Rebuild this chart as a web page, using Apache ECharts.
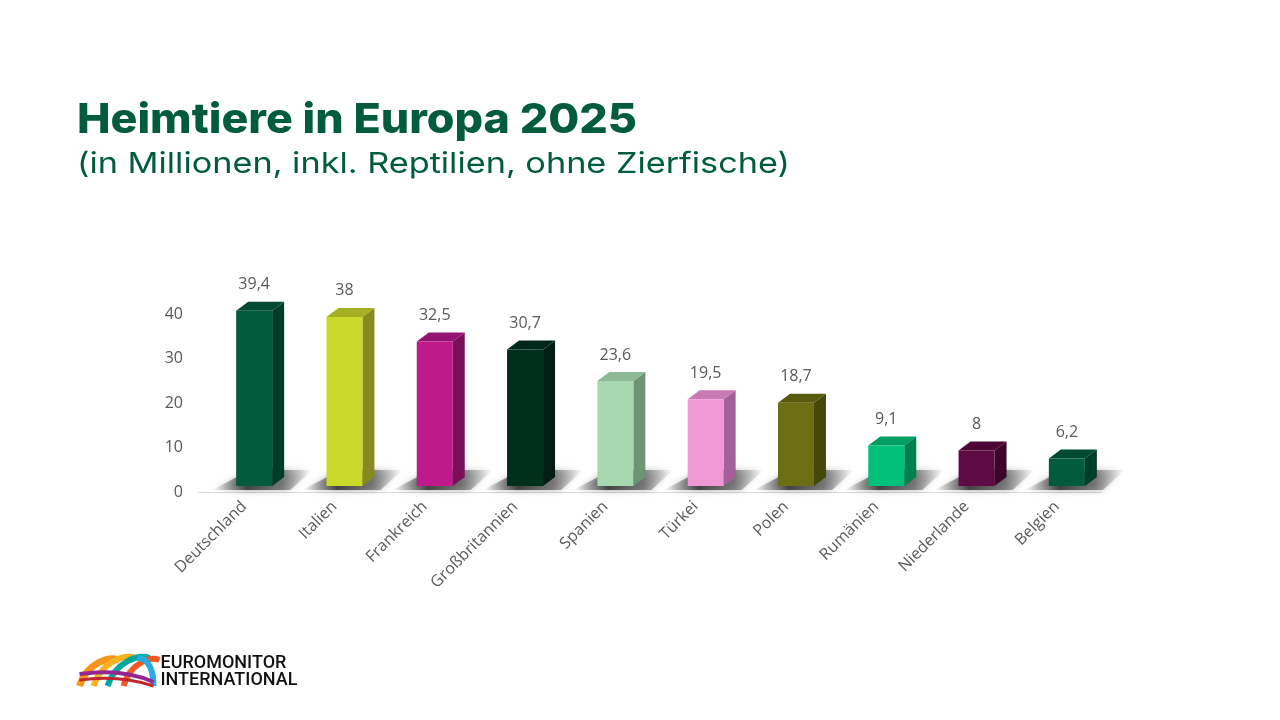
<!DOCTYPE html>
<html>
<head>
<meta charset="utf-8">
<script src="https://cdn.jsdelivr.net/npm/echarts@6/dist/echarts.min.js"></script>
<style>
  html, body { margin: 0; padding: 0; background: #fff; }
  #chart { width: 1280px; height: 720px; }
</style>
</head>
<body>
<div id="chart"></div>
<script>
var laender = ['Deutschland', 'Italien', 'Frankreich', 'Großbritannien', 'Spanien', 'Türkei', 'Polen', 'Rumänien', 'Niederlande', 'Belgien'];
var werte = [39.4, 38, 32.5, 30.7, 23.6, 19.5, 18.7, 9.1, 8, 6.2];
var frontFarben = ['#005c3c', '#c9da2a', '#be1a8a', '#00301c', '#a8d8b0', '#f098d6', '#6b6e12', '#00c07a', '#5e0b45', '#005c3c'];
var seitenFarben = ['#003d27', '#858c1d', '#7a0f58', '#001f12', '#6f9474', '#a4609a', '#45470b', '#00824f', '#3c062c', '#003d27'];
var deckelFarben = ['#004a30', '#a3b021', '#941270', '#00281a', '#8fb894', '#c87ab6', '#585a0e', '#009e63', '#4b0837', '#004a30'];
var yTicks = [0, 10, 20, 30, 40];

var titel = 'Heimtiere in Europa 2025';
var untertitel = '(in Millionen, inkl. Reptilien, ohne Zierfische)';

function fmt(v) {
  return String(v).replace('.', ',');
}

// width of a text in a given font, to stretch the titles like the wider original font
function textBreite(text, font) {
  var ctx = document.createElement('canvas').getContext('2d');
  ctx.font = font;
  return ctx.measureText(text).width;
}

function drawChart () {

  var chartDom = document.getElementById('chart');
  var myChart = echarts.init(chartDom);
  var option;

  var dx = 12, dy = 9, lift = 6;

  var titelFont = '800 41px Inter';
  var unterFont = '400 29px Inter';
  var sTitel = 560 / textBreite(titel, titelFont);
  var sUnter = 713 / textBreite(untertitel, unterFont);

  option = {
    animation: false,
    grid: { left: 199, right: 178, top: 314, bottom: 228 },
    graphic: [
      {
        type: 'text', x: 77, y: 100, scaleX: sTitel,
        style: { text: titel, font: titelFont, fill: '#005c3c', verticalAlign: 'top' }
      },
      {
        type: 'text', x: 77, y: 150, scaleX: sUnter,
        style: { text: untertitel, font: unterFont, fill: '#005c3c', verticalAlign: 'top' }
      },
      // logo
      {
        type: 'group', left: 76, top: 654,
        children: [
          { type: 'bezierCurve', shape: { x1: 0, y1: 32, x2: 40, y2: 6, cpx1: 8, cpy1: 8, cpx2: 30, cpy2: 2 }, style: { stroke: '#f7941d', lineWidth: 7, fill: null } },
          { type: 'bezierCurve', shape: { x1: 14, y1: 32, x2: 56, y2: 4, cpx1: 22, cpy1: 8, cpx2: 44, cpy2: 0 }, style: { stroke: '#f7b21d', lineWidth: 6, fill: null } },
          { type: 'bezierCurve', shape: { x1: 28, y1: 32, x2: 70, y2: 4, cpx1: 36, cpy1: 8, cpx2: 58, cpy2: 0 }, style: { stroke: '#00a99d', lineWidth: 6, fill: null } },
          { type: 'bezierCurve', shape: { x1: 44, y1: 32, x2: 80, y2: 6, cpx1: 50, cpy1: 10, cpx2: 70, cpy2: 2 }, style: { stroke: '#f15a24', lineWidth: 6, fill: null } },
          { type: 'bezierCurve', shape: { x1: 58, y1: 4, x2: 74, y2: 32, cpx1: 70, cpy1: 4, cpx2: 74, cpy2: 18 }, style: { stroke: '#29abe2', lineWidth: 6, fill: null } },
          { type: 'bezierCurve', shape: { x1: 0, y1: 20, x2: 74, y2: 28, cpx1: 30, cpy1: 16, cpx2: 56, cpy2: 20 }, style: { stroke: '#93278f', lineWidth: 4, fill: null } },
          { type: 'bezierCurve', shape: { x1: 0, y1: 26, x2: 74, y2: 32, cpx1: 30, cpy1: 22, cpx2: 56, cpy2: 26 }, style: { stroke: '#c1272d', lineWidth: 3, fill: null } },
          { type: 'text', left: 81, top: 0, style: { text: 'EUROMONITOR', font: '500 18px Roboto', fill: '#111' } },
          { type: 'text', left: 81, top: 17, style: { text: 'INTERNATIONAL', font: '500 18px Roboto', fill: '#111' } }
        ]
      }
    ],
    xAxis: {
      type: 'category',
      data: laender,
      axisLine: { lineStyle: { color: '#d9d9d9', width: 1 } },
      axisTick: { show: false },
      axisLabel: { rotate: 45, color: '#595959', fontSize: 16, fontFamily: 'Open Sans', margin: 12, interval: 0 }
    },
    yAxis: {
      type: 'value',
      min: 0,
      max: 40,
      interval: 10,
      axisLine: { show: false },
      axisTick: { show: false },
      splitLine: { show: false },
      axisLabel: { color: '#595959', fontSize: 16, fontFamily: 'Open Sans', margin: 16 }
    },
    series: [
      {
        type: 'custom',
        clip: false,
        data: werte.map(function (v, i) { return [i, v]; }),
        renderItem: function (params, api) {
          var i = api.value(0);
          var v = api.value(1);
          var top = api.coord([i, v]);
          var base = api.coord([i, 0]);
          var fl = top[0] - 8, fr = top[0] + 28;
          var y0 = base[1] - lift, yt = top[1] - lift;
          return {
            type: 'group',
            children: [
              {
                type: 'polygon',
                shape: { points: [[fl + 14, y0 - 16], [fr + 40, y0 - 16], [fr + 18, y0 + 4], [fl - 24, y0 + 4]] },
                style: {
                  fill: new echarts.graphic.LinearGradient(0, 0, 1, 0, [
                    { offset: 0, color: 'rgba(90,90,90,0)' },
                    { offset: 0.35, color: 'rgba(55,55,55,0.9)' },
                    { offset: 0.7, color: 'rgba(80,80,80,0.65)' },
                    { offset: 1, color: 'rgba(120,120,120,0)' }
                  ]),
                  shadowBlur: 7,
                  shadowColor: 'rgba(70,70,70,0.6)'
                }
              },
              {
                type: 'polygon',
                shape: { points: [[fr, yt], [fr + dx, yt - dy], [fr + dx, y0 - dy], [fr, y0]] },
                style: { fill: seitenFarben[i] }
              },
              {
                type: 'polygon',
                shape: { points: [[fl, yt], [fl + dx, yt - dy], [fr + dx, yt - dy], [fr, yt]] },
                style: { fill: deckelFarben[i] }
              },
              {
                type: 'rect',
                shape: { x: fl, y: yt, width: fr - fl, height: y0 - yt },
                style: { fill: frontFarben[i] }
              },
              {
                type: 'text',
                x: (fl + fr) / 2,
                y: yt - dy - 9,
                style: {
                  text: fmt(v),
                  align: 'center',
                  verticalAlign: 'bottom',
                  fill: '#595959',
                  font: '16px "Open Sans"'
                }
              }
            ]
          };
        }
      }
    ]
  };

  option && myChart.setOption(option);

}

drawChart()
</script>
</body>
</html>
